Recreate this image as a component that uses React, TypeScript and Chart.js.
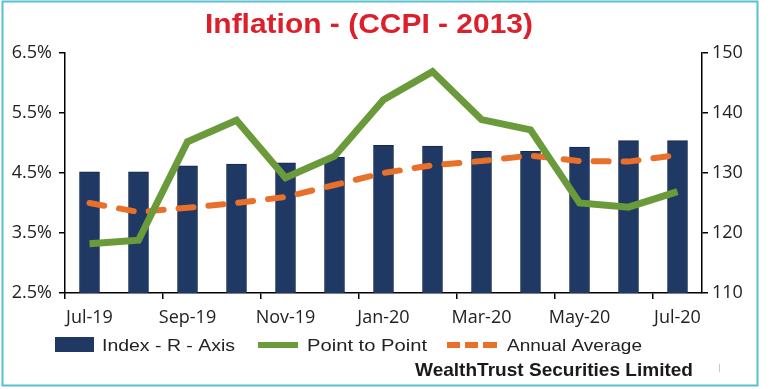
import React, { useEffect, useRef } from "react";
import { Chart, registerables } from "chart.js";

Chart.register(...registerables);

const categories = ["Jul-19", "Aug-19", "Sep-19", "Oct-19", "Nov-19", "Dec-19", "Jan-20", "Feb-20", "Mar-20", "Apr-20", "May-20", "Jun-20", "Jul-20"];
const indexValues = [130.2, 130.2, 131.2, 131.5, 131.7, 132.6, 134.6, 134.5, 133.6, 133.6, 134.3, 135.4, 135.4];
const pointToPoint = [3.32, 3.38, 5.02, 5.38, 4.42, 4.78, 5.72, 6.19, 5.39, 5.22, 4.0, 3.93, 4.19];
const annualAverage = [4.0, 3.85, 3.92, 4.0, 4.1, 4.3, 4.5, 4.63, 4.7, 4.79, 4.7, 4.69, 4.8];
const leftTicks = [2.5, 3.5, 4.5, 5.5, 6.5];
const rightTicks = [110, 120, 130, 140, 150];
const titleText = "Inflation - (CCPI - 2013)";
const footerText = "WealthTrust Securities Limited";

const NAVY = "#1F3864";
const GREEN = "#6A9A3A";
const ORANGE = "#E8702A";

function fitText(ctx: CanvasRenderingContext2D, text: string, x: number, y: number, width: number) {
  const w = ctx.measureText(text).width;
  const sx = width / w;
  ctx.save();
  ctx.translate(x, y);
  ctx.scale(sx, 1);
  ctx.textAlign = "left";
  ctx.textBaseline = "alphabetic";
  ctx.fillText(text, 0, 0);
  ctx.restore();
}

const decorPlugin = {
  id: "decor",
  beforeDraw(chart: any) {
    const ctx = chart.ctx as CanvasRenderingContext2D;
    ctx.save();
    ctx.fillStyle = "#ffffff";
    ctx.fillRect(0, 0, chart.width, chart.height);
    ctx.restore();
  },
  afterDraw(chart: any) {
    const ctx = chart.ctx as CanvasRenderingContext2D;
    ctx.save();
    // frame
    ctx.strokeStyle = "#5BBFD2";
    ctx.lineWidth = 2;
    ctx.strokeRect(2.5, 1.5, 755, 384);

    // title
    ctx.fillStyle = "#DC1F2B";
    ctx.font = "bold 28px 'Liberation Sans', Arial, sans-serif";
    fitText(ctx, titleText, 205, 33, 328);

    // legend
    const ds = chart.data.datasets;
    ctx.font = "17px 'Liberation Sans', Arial, sans-serif";
    // bar item
    ctx.fillStyle = ds[0].backgroundColor;
    ctx.fillRect(55, 337, 39, 15);
    ctx.fillStyle = "#222";
    fitText(ctx, ds[0].label, 102, 351, 133);
    // green line item
    ctx.fillStyle = ds[1].borderColor;
    ctx.fillRect(258, 342, 40, 6);
    ctx.fillStyle = "#222";
    fitText(ctx, ds[1].label, 307, 351, 120);
    // orange dashed item
    ctx.fillStyle = ds[2].borderColor;
    ctx.fillRect(447, 342, 13, 6);
    ctx.fillRect(465, 342, 13, 6);
    ctx.fillRect(483, 342, 14, 6);
    ctx.fillStyle = "#222";
    fitText(ctx, ds[2].label, 507, 351, 135);

    // footer
    ctx.fillStyle = "#1a1a1a";
    ctx.font = "bold 19px 'Liberation Sans', Arial, sans-serif";
    fitText(ctx, footerText, 415, 376, 278);

    ctx.strokeStyle = "#c8c8c8";
    ctx.lineWidth = 1;
    ctx.beginPath();
    ctx.moveTo(719.5, 364);
    ctx.lineTo(719.5, 372);
    ctx.stroke();
    ctx.restore();
  },
};

export default function App() {
  const ref = useRef<HTMLCanvasElement | null>(null);

  useEffect(() => {
    if (!ref.current) return;
    const tickFont = { family: "'Open Sans', sans-serif", size: 18 };
    const chart = new Chart(ref.current, {
      type: "bar",
      data: {
        labels: categories,
        datasets: [
          {
            type: "bar",
            label: "Index - R - Axis",
            data: indexValues,
            yAxisID: "y1",
            backgroundColor: NAVY,
            borderColor: "#13284A",
            borderWidth: 1,
            barThickness: 20,
            order: 3,
          } as any,
          {
            type: "line",
            label: "Point to Point",
            data: pointToPoint,
            yAxisID: "y",
            borderColor: GREEN,
            backgroundColor: GREEN,
            borderWidth: 7,
            pointRadius: 0,
            tension: 0,
            fill: false,
            order: 1,
          } as any,
          {
            type: "line",
            label: "Annual Average",
            data: annualAverage,
            yAxisID: "y",
            borderColor: ORANGE,
            backgroundColor: ORANGE,
            borderWidth: 6,
            borderDash: [15, 15],
            borderCapStyle: "round",
            pointRadius: 0,
            tension: 0,
            fill: false,
            order: 2,
          } as any,
        ],
      },
      options: {
        responsive: false,
        animation: false,
        layout: { padding: { top: 53, bottom: 56, left: 0, right: 0 } },
        plugins: { legend: { display: false }, title: { display: false }, tooltip: { enabled: false } },
        scales: {
          x: {
            type: "category",
            offset: true,
            grid: {
              offset: true,
              drawOnChartArea: false,
              tickLength: 6,
              lineWidth: 1.5,
              color: (c: any) => (c.index % 2 === 0 ? "#000" : "rgba(0,0,0,0)"),
            },
            border: { color: "#000", width: 1.5 },
            ticks: {
              autoSkip: false,
              maxRotation: 0,
              minRotation: 0,
              padding: 8,
              color: "#222",
              font: tickFont,
              callback: (_v: any, i: number) => (i % 2 === 0 ? categories[i] : ""),
            },
            afterFit: (s: any) => {
              s.height = 40;
            },
          },
          y: {
            type: "linear",
            position: "left",
            min: 2.5,
            max: 6.5,
            grid: { drawOnChartArea: false, tickLength: 6, color: "#000", lineWidth: 1.5 },
            border: { color: "#000", width: 1.5 },
            ticks: {
              padding: 7,
              color: "#222",
              font: tickFont,
              callback: (v: any) => Number(v).toFixed(1) + "%",
            },
            afterBuildTicks: (s: any) => {
              s.ticks = leftTicks.map((v) => ({ value: v }));
            },
            afterFit: (s: any) => {
              s.width = 65;
            },
          },
          y1: {
            type: "linear",
            position: "right",
            min: 110,
            max: 150,
            grid: { drawOnChartArea: false, tickLength: 6, color: "#000", lineWidth: 1.5 },
            border: { color: "#000", width: 1.5 },
            ticks: {
              padding: 4,
              color: "#222",
              font: tickFont,
              callback: (v: any) => String(v),
            },
            afterBuildTicks: (s: any) => {
              s.ticks = rightTicks.map((v) => ({ value: v }));
            },
            afterFit: (s: any) => {
              s.width = 68;
            },
          },
        },
      } as any,
      plugins: [decorPlugin],
    });
    return () => chart.destroy();
  }, []);

  return (
    <div style={{ position: "absolute", left: 0, top: 0, width: 770, height: 389 }}>
      <canvas ref={ref} width={770} height={389} style={{ width: 770, height: 389, display: "block" }} />
    </div>
  );
}
